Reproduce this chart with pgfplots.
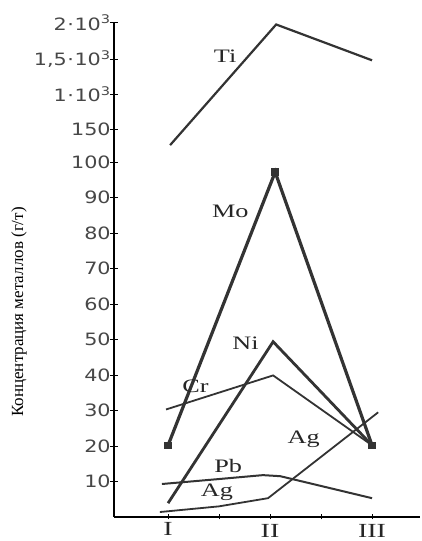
\documentclass[border=0pt]{standalone}
\usepackage{fontspec}
\setmainfont{Liberation Serif}
\newfontfamily\tickfont[FakeStretch=1.22]{DejaVu Sans}
\newfontfamily\labfont[FakeStretch=1.38]{Liberation Serif}
\newfontfamily\romfont[FakeStretch=1.4]{Liberation Serif}
\usepackage{pgfplots}
\pgfplotsset{compat=1.18}
\definecolor{ln}{HTML}{333333}
\begin{document}
\begin{tikzpicture}[x=1pt,y=1pt]
\path[use as bounding box] (0,0) rectangle (422,541);
\begin{axis}[
  at={(114pt,24pt)}, anchor=south west,
  scale only axis, width=306pt, height=495pt,
  xmin=0.47, xmax=3.47, ymin=0, ymax=13.95,
  axis x line=bottom, axis y line=left,
  axis line style={-, line width=1.6pt, black},
  xtick={2,3}, xticklabels={II,III},
  extra x ticks={1}, extra x tick labels={I},
  extra x tick style={major tick length=0pt},
  minor xtick={1.5,2.5},
  xtick style={line width=0.9pt, black, /pgfplots/major tick length=5pt, /pgfplots/minor tick length=5pt},
  ytick style={line width=0.9pt, black, /pgfplots/major tick length=8pt},
  ytick={1,2,3,4,5,6,7,8,9,10,10.93,11.92,12.9,13.93},
  yticklabels={10,20,30,40,50,60,70,80,90,100,150,{1\kern0.5pt·\kern0.5pt10\textsuperscript{3}},{1,5\kern0.5pt·\kern0.5pt10\textsuperscript{3}},{2\kern0.5pt·\kern0.5pt10\textsuperscript{3}}},
  yticklabel style={font=\tickfont\fontsize{17}{18}\selectfont, text=black!72, inner sep=1pt},
  xticklabel style={font=\romfont\fontsize{20}{20}\selectfont, text=black!85, yshift=-2pt},
  clip=false,
]
% Ti
\addplot[ln, line width=2.2pt] coordinates {(1.02,10.48) (2.06,13.88) (3.0,12.87)};
% Mo
\addplot[ln, line width=3.2pt, mark=square*, mark size=2.2pt] coordinates {(1.0,2.02) (2.05,9.72) (3.0,2.02)};
% Ni
\addplot[ln, line width=2.8pt] coordinates {(1.0,0.39) (2.03,4.94) (3.0,2.02)};
% Cr
\addplot[ln, line width=1.8pt] coordinates {(0.98,3.03) (2.03,3.99) (3.0,2.02)};
% Pb
\addplot[ln, line width=2.0pt] coordinates {(0.94,0.93) (1.5,1.07) (1.93,1.18) (2.1,1.15) (3.0,0.53)};
% Ag
\addplot[ln, line width=1.8pt] coordinates {(0.92,0.14) (1.5,0.3) (1.98,0.53) (3.06,2.95)};
\node[font=\labfont\fontsize{19}{19}\selectfont, text=black!85] at (axis cs:1.56,12.98) {Ti};
\node[font=\labfont\fontsize{19}{19}\selectfont, text=black!85] at (axis cs:1.61,8.6) {Mo};
\node[font=\labfont\fontsize{19}{19}\selectfont, text=black!85] at (axis cs:1.76,4.89) {Ni};
\node[font=\labfont\fontsize{19}{19}\selectfont, text=black!85] at (axis cs:1.27,3.68) {Cr};
\node[font=\labfont\fontsize{19}{19}\selectfont, text=black!85] at (axis cs:2.33,2.19) {Ag};
\node[font=\labfont\fontsize{19}{19}\selectfont, text=black!85] at (axis cs:1.59,1.43) {Pb};
\node[font=\labfont\fontsize{19}{19}\selectfont, text=black!85] at (axis cs:1.48,0.70) {Ag};
\end{axis}
\node[rotate=90, font=\fontsize{17}{17}\selectfont] at (19,229) {Концентрация металлов (г/т)};
\end{tikzpicture}
\end{document}
